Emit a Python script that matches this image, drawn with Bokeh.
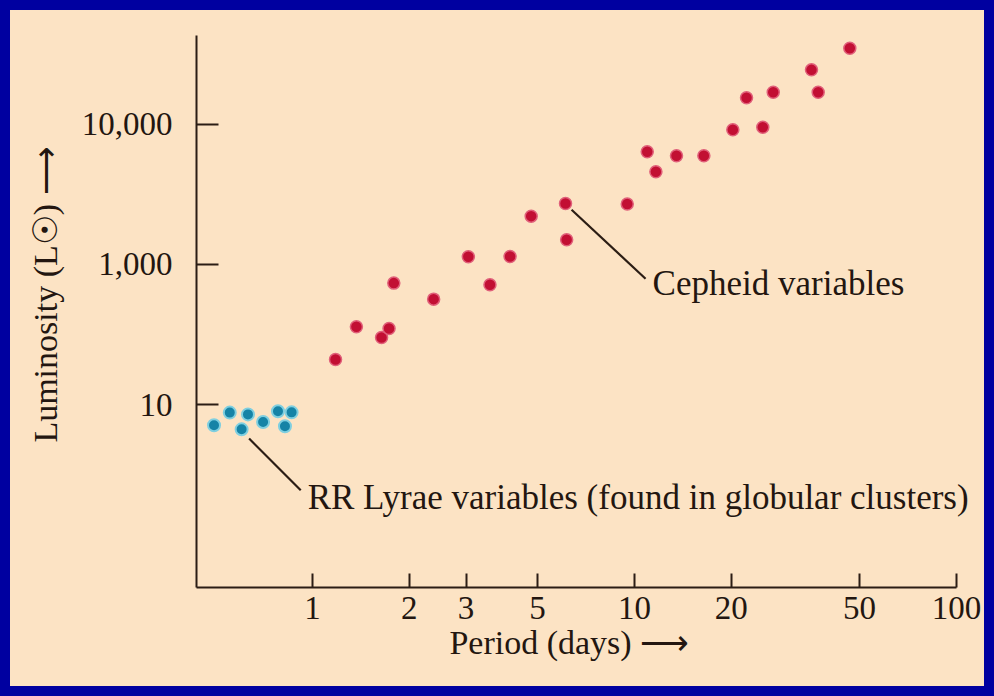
from bokeh.plotting import figure
from bokeh.models import FixedTicker, Label
from bokeh.layouts import column
from bokeh.embed import file_html
from bokeh.resources import INLINE

# ---- data ----
rr_period = [0.554, 0.631, 0.495, 0.603, 0.703, 0.782, 0.862, 0.822]
rr_lum = [88.0, 85.5, 71.5, 66.9, 75.4, 89.9, 88.4, 70.3]

ceph_period = [1.18, 1.37, 1.64, 1.73, 1.79, 2.38, 3.05, 3.56, 4.11, 4.78, 6.11, 6.16,
               9.50, 10.96, 11.66, 13.51, 16.43, 20.21, 25.04, 22.29, 26.98, 35.47, 37.21, 46.65]
ceph_lum = [210, 360, 302, 350, 736, 566, 1134, 717, 1140, 2207, 2718, 1499,
            2696, 6340, 4568, 5937, 5937, 9094, 9489, 15370, 16840, 24310, 16840, 34630]

x_ticks = [1, 2, 3, 5, 10, 20, 50, 100]
x_tick_labels = ["1", "2", "3", "5", "10", "20", "50", "100"]
y_ticks = [100, 1000, 10000]
y_tick_labels = ["10", "1,000", "10,000"]

# annotation anchors (period, luminosity)
ceph_note_line = [(6.38, 2451), (10.83, 791)]
ceph_note_text = (11.39, 733, "Cepheid variables")
rr_note_line = [(0.636, 57.5), (0.920, 24.6)]
rr_note_text = (0.967, 21.95, "RR Lyrae variables (found in globular clusters)")

FONT = "Liberation Serif"
TXT = "#231610"
AX = "#2b1d14"
BG = "#fce3c4"
BORDER = "#0000a0"
NB = "\u00a0"

X_MIN, X_AXIS_END, X_VIEW_END = 0.4367, 100, 122.2

p = figure(width=974, height=676, x_axis_type="log", y_axis_type="log",
           x_range=(X_MIN, X_VIEW_END), y_range=(5.0, 42700),
           output_backend="svg", toolbar_location=None,
           min_border_left=186, min_border_right=0, min_border_top=25, min_border_bottom=99,
           background_fill_color=BG, border_fill_color=BG)
p.outline_line_color = None
p.grid.visible = False

for ax in (p.xaxis, p.yaxis):
    ax.axis_line_color = AX
    ax.axis_line_width = 2
    ax.major_tick_line_color = AX
    ax.major_tick_line_width = 2
    ax.major_tick_out = 0
    ax.minor_tick_line_color = None
    ax.major_label_text_font = FONT
    ax.major_label_text_font_size = "33px"
    ax.major_label_text_color = TXT
    ax.axis_label_text_font = FONT
    ax.axis_label_text_font_size = "34px"
    ax.axis_label_text_font_style = "normal"
    ax.axis_label_text_color = TXT

p.xaxis.bounds = (X_MIN, X_AXIS_END)
p.xaxis.ticker = FixedTicker(ticks=x_ticks, minor_ticks=[])
p.xaxis.major_label_overrides = {t: s for t, s in zip(x_ticks, x_tick_labels)}
p.xaxis.major_tick_in = 14
p.xaxis.major_label_standoff = 9
p.xaxis.axis_label = "Period (days) \u27f6" + NB * 5
p.xaxis.axis_label_standoff = 2

p.yaxis.ticker = FixedTicker(ticks=y_ticks, minor_ticks=[])
p.yaxis.major_label_overrides = {t: s for t, s in zip(y_ticks, y_tick_labels)}
p.yaxis.major_tick_in = 22
p.yaxis.major_label_standoff = 24
p.yaxis.axis_label = NB * 4 + "Luminosity (L\u2609) \u27f6"
p.yaxis.axis_label_standoff = 15

# leader lines
p.segment(x0=[ceph_note_line[0][0], rr_note_line[0][0]],
          y0=[ceph_note_line[0][1], rr_note_line[0][1]],
          x1=[ceph_note_line[1][0], rr_note_line[1][0]],
          y1=[ceph_note_line[1][1], rr_note_line[1][1]],
          line_color=AX, line_width=2.2)

# data points
p.scatter(x=rr_period, y=rr_lum, size=12, fill_color="#1583a6",
          line_color="#7fcfe0", line_width=2)
p.scatter(x=ceph_period, y=ceph_lum, size=12, fill_color="#c20f33",
          line_color="#e0607a", line_width=1.5)

for (lx, ly, lt) in (ceph_note_text, rr_note_text):
    p.add_layout(Label(x=lx, y=ly, text=lt, text_font=FONT, text_font_size="35px",
                       text_color=TXT, text_baseline="middle", text_align="left"))

layout = column(p, styles={"background-color": BG, "padding": "10px",
                           "box-shadow": "inset 0 0 0 10px " + BORDER})

open("out.html", "w").write(file_html(layout, INLINE))
